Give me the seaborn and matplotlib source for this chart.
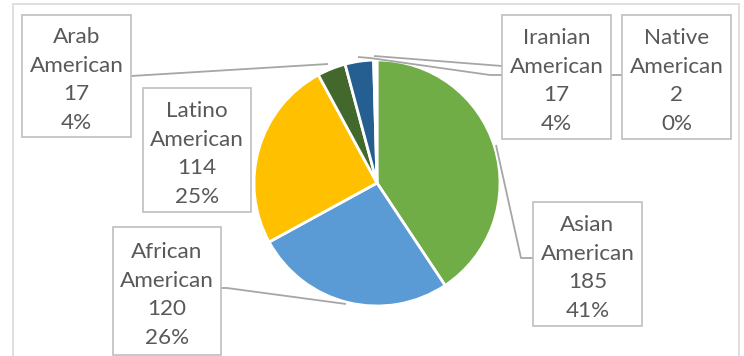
import matplotlib
matplotlib.use("Agg")
import matplotlib.pyplot as plt
import seaborn as sns
from matplotlib.patches import Rectangle

# ---- data ----
categories = ["Asian American", "African American", "Latino American",
              "Arab American", "Iranian American", "Native American"]
values = [185, 120, 114, 17, 17, 2]
colors = ["#70AD47", "#5B9BD5", "#FFC000", "#43682B", "#255E91", "#FFFFFF"]

sns.set_theme(style="white")
plt.rcParams["font.family"] = ["Lato", "DejaVu Sans"]

W, H = 744, 356
fig = plt.figure(figsize=(W / 100, H / 100), dpi=100)
ax = fig.add_axes([0, 0, 1, 1])

def Y(y):
    return H - y

ax.pie(values, colors=colors, startangle=90, counterclock=False,
       center=(377, Y(183)), radius=123,
       wedgeprops=dict(edgecolor="white", linewidth=2))
ax.set_xlim(0, W)
ax.set_ylim(0, H)
ax.set_aspect("equal")
ax.axis("off")

# outer chart border
ax.add_patch(Rectangle((13, Y(360)), 726, 356, fill=False,
                       edgecolor="#D9D9D9", linewidth=1.2, zorder=1))

line_c = "#A6A6A6"
leaders = {
    "Arab American": [(131, 76), (328, 64)],
    "Iranian American": [(374, 56), (502, 66)],
    "Native American": [(358, 57), (370, 58), (490, 75), (622, 75)],
    "African American": [(221, 288), (227, 288), (346, 304)],
    "Asian American": [(496, 145), (521, 258), (533, 258)],
}
for pts in leaders.values():
    ax.plot([p[0] for p in pts], [Y(p[1]) for p in pts], color=line_c,
            linewidth=1.3, zorder=3, solid_capstyle="butt")

# label boxes: (left, top, right, bottom) in pixels
boxes = {
    "Arab American": (22, 15, 131, 137),
    "Latino American": (143, 88, 251, 212),
    "Iranian American": (502, 15, 611, 139),
    "Native American": (622, 15, 731, 139),
    "African American": (113, 227, 221, 355),
    "Asian American": (533, 202, 642, 326),
}
total = sum(values)
for cat, v in zip(categories, values):
    l, t, r, b = boxes[cat]
    ax.add_patch(Rectangle((l, Y(b)), r - l, b - t, facecolor="white",
                           edgecolor="#BFBFBF", linewidth=1.2, zorder=4))
    name = cat.replace(" ", "\n")
    pct = round(100 * v / total)
    ax.text((l + r) / 2, Y((t + b) / 2 + 4), f"{name}\n{v}\n{pct}%",
            ha="center", va="center", fontsize=16.2, color="#595959",
            linespacing=1.56, zorder=5)

fig.savefig("out.png", dpi=100)
